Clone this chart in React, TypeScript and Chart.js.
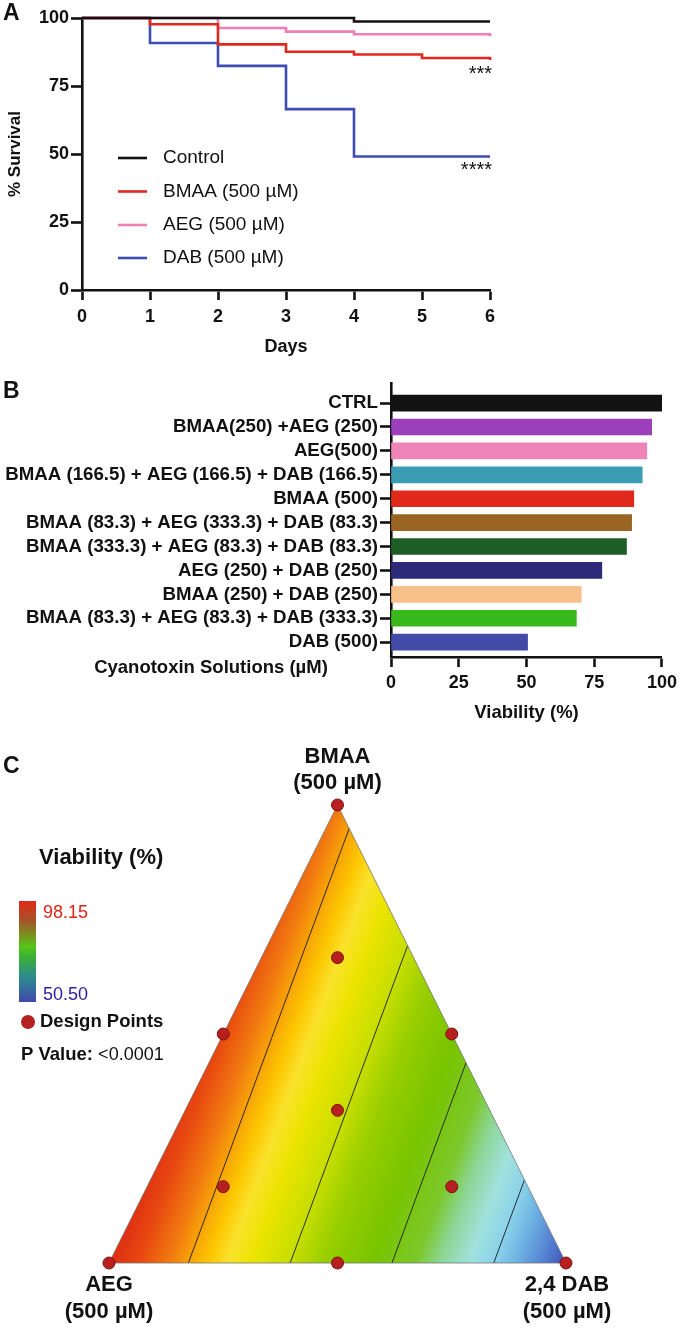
import React, { useEffect, useRef } from "react";
import { Chart, registerables } from "chart.js";

Chart.register(...registerables);

const FONT = '"Liberation Sans", Arial, Helvetica, sans-serif';

// ---------------- Panel A : survival ----------------
const days = [0, 1, 2, 3, 4, 5, 6];
const survivalControl = [100, 100, 100, 100, 98.7, 98.7, 98.7];
const survivalBMAA = [100, 97.7, 90.3, 87.6, 86.6, 85.3, 84.6];
const survivalAEG = [100, 100, 96.3, 95.0, 94.0, 94.0, 93.3];
const survivalDAB = [100, 90.8, 82.4, 66.5, 49.1, 49.1, 49.1];
const survivalNames = ["Control", "BMAA (500 µM)", "AEG (500 µM)", "DAB (500 µM)"];
const survivalMarks = ["", "***", "", "****"];
const survivalColors = ["#111111", "#e2281c", "#f07fb8", "#3e4db4"];

// ---------------- Panel B : viability bars ----------------
const cyanoLabels = [
  "CTRL",
  "BMAA(250) +AEG (250)",
  "AEG(500)",
  "BMAA (166.5) + AEG (166.5) + DAB (166.5)",
  "BMAA (500)",
  "BMAA (83.3) + AEG (333.3) + DAB (83.3)",
  "BMAA (333.3) + AEG (83.3) + DAB (83.3)",
  "AEG (250) + DAB (250)",
  "BMAA (250) + DAB (250)",
  "BMAA (83.3) + AEG (83.3) + DAB (333.3)",
  "DAB (500)",
];
const viabilityValues = [100, 96.2, 94.4, 92.7, 89.6, 88.8, 86.9, 77.8, 70.2, 68.4, 50.4];
const barColors = [
  "#121212", "#9b3fbb", "#ef84b9", "#3a9cb3", "#e0291b", "#9a6423",
  "#1f5d26", "#2d2a7a", "#f8c18c", "#39b81c", "#434ba9",
];

// ---------------- Panel C : mixture design ----------------
const vertexNames = ["BMAA", "AEG", "2,4 DAB"];
const vertexConc = "(500 µM)";
const designBMAA = [500, 0, 0, 250, 250, 0, 166.5, 333.3, 83.3, 83.3];
const designAEG = [0, 500, 0, 250, 0, 250, 166.5, 83.3, 333.3, 83.3];
const designDAB = [0, 0, 500, 0, 250, 250, 166.5, 83.3, 83.3, 333.3];
const surfaceCoef = [92.0, 97.8, 52.9]; // fitted viability of pure BMAA, AEG, DAB
const contourLevels = [60, 70, 80, 90];
const colorbarRange = [50.5, 98.15];
const pValueText = "<0.0001";

const SURFACE_STOPS: [number, number[]][] = [
  [0.0, [56, 62, 176]],
  [0.05, [64, 80, 182]],
  [0.1, [84, 130, 210]],
  [0.16, [112, 184, 228]],
  [0.2, [140, 210, 234]],
  [0.25, [160, 226, 222]],
  [0.31, [140, 214, 150]],
  [0.36, [124, 200, 44]],
  [0.45, [120, 196, 0]],
  [0.55, [152, 206, 0]],
  [0.62, [198, 222, 0]],
  [0.7, [236, 228, 0]],
  [0.75, [250, 226, 44]],
  [0.79, [252, 198, 0]],
  [0.83, [248, 162, 8]],
  [0.87, [241, 122, 16]],
  [0.93, [232, 74, 16]],
  [1.0, [220, 40, 20]],
];

function surfaceValue(b: number, a: number, d: number) {
  return surfaceCoef[0] * b + surfaceCoef[1] * a + surfaceCoef[2] * d;
}

function surfaceColor(v: number) {
  let t = (v - colorbarRange[0]) / (colorbarRange[1] - colorbarRange[0]);
  t = Math.max(0, Math.min(1, t));
  for (let i = 1; i < SURFACE_STOPS.length; i++) {
    const [t1, c1] = SURFACE_STOPS[i];
    const [t0, c0] = SURFACE_STOPS[i - 1];
    if (t <= t1) {
      const f = (t - t0) / (t1 - t0);
      return [0, 1, 2].map((k) => Math.round(c0[k] + (c1[k] - c0[k]) * f));
    }
  }
  return SURFACE_STOPS[SURFACE_STOPS.length - 1][1];
}

function ternaryXY(b: number, a: number, d: number) {
  const s = b + a + d;
  return { x: d / s + (b / s) / 2, y: b / s };
}

const baseOpts = {
  responsive: false,
  maintainAspectRatio: false,
  animation: false as const,
  devicePixelRatio: 1,
  events: [] as any[],
};

function font(size: number, bold = true) {
  return `${bold ? "bold " : ""}${size}px ${FONT}`;
}

function text(ctx: CanvasRenderingContext2D, s: string, x: number, y: number, f: string, align: CanvasTextAlign = "left", color = "#111") {
  ctx.save();
  ctx.font = f;
  ctx.fillStyle = color;
  ctx.textAlign = align;
  ctx.textBaseline = "middle";
  ctx.fillText(s, x, y);
  ctx.restore();
}

// ---------- Chart A ----------
function makeSurvival(canvas: HTMLCanvasElement) {
  const series = [survivalControl, survivalBMAA, survivalAEG, survivalDAB];
  const plugin = {
    id: "survivalDecor",
    afterDraw(chart: any) {
      const { ctx, scales } = chart;
      const xs = scales.x, ys = scales.y;
      text(ctx, "A", 3, 14, font(23));
      ctx.save();
      ctx.translate(15, 154);
      ctx.rotate(-Math.PI / 2);
      text(ctx, "% Survival", 0, 0, font(17), "center");
      ctx.restore();
      text(ctx, "Days", (xs.left + xs.right) / 2, 347, font(18), "center");
      const legendY = [158, 191.5, 225, 258];
      survivalNames.forEach((name, i) => {
        ctx.save();
        ctx.strokeStyle = survivalColors[i];
        ctx.lineWidth = 2.6;
        ctx.beginPath();
        ctx.moveTo(118, legendY[i]);
        ctx.lineTo(147, legendY[i]);
        ctx.stroke();
        ctx.restore();
        text(ctx, name, 163, legendY[i], font(19, false));
      });
      survivalMarks.forEach((m, i) => {
        if (!m) return;
        const last = series[i][series[i].length - 1];
        const py = ys.getPixelForValue(last);
        ctx.save();
        ctx.font = font(20, false);
        ctx.fillStyle = "#111";
        ctx.textAlign = "right";
        ctx.textBaseline = "alphabetic";
        ctx.fillText(m, xs.getPixelForValue(days[days.length - 1]) + 2, py + 20);
        ctx.restore();
      });
    },
  };
  return new Chart(canvas, {
    type: "line",
    data: {
      datasets: series.map((s, i) => ({
        label: survivalNames[i],
        data: days.map((d, k) => ({ x: d, y: s[k] })),
        borderColor: survivalColors[i],
        backgroundColor: survivalColors[i],
        borderWidth: 2.6,
        pointRadius: 0,
        stepped: "before" as const,
        clip: false as any,
        fill: false,
      })),
    },
    options: {
      ...baseOpts,
      layout: { padding: { left: 0, top: 18, right: 192, bottom: 0 } },
      plugins: { legend: { display: false }, tooltip: { enabled: false } },
      scales: {
        x: {
          type: "linear",
          min: 0,
          max: 6,
          afterFit: (s: any) => { s.height = 70; },
          ticks: { stepSize: 1, font: { family: FONT, size: 18, weight: "bold" }, color: "#111", padding: 6 },
          grid: { drawOnChartArea: false, drawTicks: true, tickLength: 10, tickWidth: 2.6, tickColor: "#111", color: "#111" },
          border: { display: true, color: "#111", width: 2.6 },
        },
        y: {
          type: "linear",
          min: 0,
          max: 100,
          afterFit: (s: any) => { s.width = 82; },
          ticks: { stepSize: 25, font: { family: FONT, size: 18, weight: "bold" }, color: "#111", padding: 2 },
          grid: { drawOnChartArea: false, drawTicks: true, tickLength: 11, tickWidth: 2.6, tickColor: "#111", color: "#111" },
          border: { display: true, color: "#111", width: 2.6 },
        },
      },
    } as any,
    plugins: [plugin],
  });
}

// ---------- Chart B ----------
function makeBars(canvas: HTMLCanvasElement) {
  const plugin = {
    id: "barDecor",
    afterDraw(chart: any) {
      const { ctx, scales } = chart;
      const xs = scales.x;
      text(ctx, "B", 3, 32, font(23));
      text(ctx, "Cyanotoxin Solutions (µM)", 211, 308, font(18.5), "center");
      text(ctx, "Viability (%)", (xs.left + xs.right) / 2, 353, font(18.5), "center");
    },
  };
  return new Chart(canvas, {
    type: "bar",
    data: {
      datasets: [
        {
          data: viabilityValues.map((v, i) => ({ x: v, y: i })),
          backgroundColor: barColors,
          borderWidth: 0,
          barThickness: 16,
        },
      ],
    },
    options: {
      ...baseOpts,
      indexAxis: "y",
      layout: { padding: { left: 0, top: 23, right: 18, bottom: 0 } },
      plugins: { legend: { display: false }, tooltip: { enabled: false } },
      scales: {
        x: {
          type: "linear",
          min: 0,
          max: 100,
          afterFit: (s: any) => { s.height = 83; },
          ticks: { stepSize: 25, font: { family: FONT, size: 18, weight: "bold" }, color: "#111", padding: 5 },
          grid: { drawOnChartArea: false, drawTicks: true, tickLength: 10, tickWidth: 2.6, tickColor: "#111", color: "#111" },
          border: { display: true, color: "#111", width: 2.6 },
        },
        y: {
          type: "linear",
          reverse: true,
          offset: false,
          min: -0.84,
          max: 10.62,
          afterFit: (s: any) => { s.width = 391; },
          afterBuildTicks: (s: any) => { s.ticks = cyanoLabels.map((_, i) => ({ value: i })); },
          ticks: {
            autoSkip: false,
            callback: (v: any) => cyanoLabels[v] ?? "",
            font: { family: FONT, size: 18.7, weight: "bold" },
            color: "#111",
            padding: 2,
          },
          grid: { offset: false, drawOnChartArea: false, drawTicks: true, tickLength: 11, tickWidth: 2.6, tickColor: "#111", color: "#111" },
          border: { display: true, color: "#111", width: 2.6 },
        },
      },
    } as any,
    plugins: [plugin],
  });
}

// ---------- Chart C ----------
function makeTernary(canvas: HTMLCanvasElement) {
  const vertices = [
    [1, 0, 0],
    [0, 1, 0],
    [0, 0, 1],
  ];
  const plugin = {
    id: "ternarySurface",
    beforeDatasetsDraw(chart: any) {
      const { ctx, chartArea: ca, scales } = chart;
      const xs = scales.x, ys = scales.y;
      const px = (p: number[]) => {
        const t = ternaryXY(p[0], p[1], p[2]);
        return [xs.getPixelForValue(t.x), ys.getPixelForValue(t.y)];
      };
      const [pB, pA, pD] = vertices.map(px);
      const left = Math.floor(ca.left) - 1, top = Math.floor(ca.top) - 1;
      const w = Math.ceil(ca.right) - left + 2, h = Math.ceil(ca.bottom) - top + 2;
      const off = document.createElement("canvas");
      off.width = w;
      off.height = h;
      const octx = off.getContext("2d")!;
      const img = octx.createImageData(w, h);
      for (let j = 0; j < h; j++) {
        const Y = ys.getValueForPixel(top + j + 0.5);
        for (let i = 0; i < w; i++) {
          const X = xs.getValueForPixel(left + i + 0.5);
          const b = Y, d = X - Y / 2, a = 1 - b - d;
          const c = surfaceColor(surfaceValue(b, a, d));
          const k = (j * w + i) * 4;
          img.data[k] = c[0];
          img.data[k + 1] = c[1];
          img.data[k + 2] = c[2];
          img.data[k + 3] = 255;
        }
      }
      octx.putImageData(img, 0, 0);
      ctx.save();
      ctx.beginPath();
      ctx.moveTo(pA[0], pA[1]);
      ctx.lineTo(pD[0], pD[1]);
      ctx.lineTo(pB[0], pB[1]);
      ctx.closePath();
      ctx.clip();
      ctx.drawImage(off, left, top);
      // contour lines
      ctx.strokeStyle = "#1a1a1a";
      ctx.lineWidth = 0.9;
      const edges = [[1, 2], [1, 0], [0, 2]];
      contourLevels.forEach((L) => {
        const pts: number[][] = [];
        edges.forEach(([p, q]) => {
          const P = vertices[p], Q = vertices[q];
          const vP = surfaceValue(P[0], P[1], P[2]);
          const vQ = surfaceValue(Q[0], Q[1], Q[2]);
          if (vP === vQ || (L - vP) * (L - vQ) > 0) return;
          const t = (L - vP) / (vQ - vP);
          pts.push(px([0, 1, 2].map((k) => P[k] + (Q[k] - P[k]) * t)));
        });
        if (pts.length >= 2) {
          ctx.beginPath();
          ctx.moveTo(pts[0][0], pts[0][1]);
          ctx.lineTo(pts[1][0], pts[1][1]);
          ctx.stroke();
        }
      });
      ctx.restore();
      ctx.save();
      ctx.strokeStyle = "rgba(110,110,110,0.75)";
      ctx.lineWidth = 1;
      ctx.beginPath();
      ctx.moveTo(pA[0], pA[1]);
      ctx.lineTo(pD[0], pD[1]);
      ctx.lineTo(pB[0], pB[1]);
      ctx.closePath();
      ctx.stroke();
      ctx.restore();
    },
    afterDraw(chart: any) {
      const { ctx, scales } = chart;
      const xs = scales.x, ys = scales.y;
      const px = (p: number[]) => {
        const t = ternaryXY(p[0], p[1], p[2]);
        return [xs.getPixelForValue(t.x), ys.getPixelForValue(t.y)];
      };
      const [pB, pA, pD] = vertices.map(px);
      text(ctx, "C", 3, 27, font(23));
      text(ctx, vertexNames[0], pB[0], pB[1] - 48, font(22), "center");
      text(ctx, vertexConc, pB[0], pB[1] - 22, font(22), "center");
      text(ctx, vertexNames[1], pA[0], pA[1] + 22, font(22), "center");
      text(ctx, vertexConc, pA[0], pA[1] + 49, font(22), "center");
      text(ctx, vertexNames[2], pD[0] + 1, pD[1] + 22, font(22), "center");
      text(ctx, vertexConc, pD[0] + 1, pD[1] + 49, font(22), "center");
      // legend
      text(ctx, "Viability (%)", 39, 118, font(22));
      const g = ctx.createLinearGradient(0, 161, 0, 262);
      g.addColorStop(0, "#e02a1a");
      g.addColorStop(0.2, "#a4542a");
      g.addColorStop(0.45, "#56c418");
      g.addColorStop(0.55, "#3cb034");
      g.addColorStop(0.75, "#2e8c8c");
      g.addColorStop(1, "#4048ac");
      ctx.fillStyle = g;
      ctx.fillRect(19, 161, 17, 101);
      text(ctx, colorbarRange[1].toFixed(2), 43, 173, font(18, false), "left", "#e02414");
      text(ctx, colorbarRange[0].toFixed(2), 43, 255, font(18, false), "left", "#2c1ea0");
      ctx.save();
      ctx.fillStyle = "#b52020";
      ctx.beginPath();
      ctx.arc(28, 282, 7, 0, Math.PI * 2);
      ctx.fill();
      ctx.restore();
      text(ctx, "Design Points", 40, 282, font(18.5));
      ctx.save();
      ctx.font = font(18.5);
      const wP = ctx.measureText("P Value: ").width;
      ctx.restore();
      text(ctx, "P Value:", 21, 315, font(18.5));
      text(ctx, pValueText, 21 + wP, 315, font(18, false));
    },
  };
  return new Chart(canvas, {
    type: "scatter",
    data: {
      datasets: [
        {
          data: designBMAA.map((bm, i) => ternaryXY(bm, designAEG[i], designDAB[i])),
          pointRadius: 6,
          pointBackgroundColor: "#b82020",
          pointBorderColor: "#7a1410",
          pointBorderWidth: 1,
          clip: false as any,
        },
      ],
    },
    options: {
      ...baseOpts,
      layout: { padding: { left: 109, right: 116, top: 65, bottom: 66 } },
      plugins: { legend: { display: false }, tooltip: { enabled: false } },
      scales: {
        x: { type: "linear", min: 0, max: 1, display: false },
        y: { type: "linear", min: 0, max: 1, display: false },
      },
    } as any,
    plugins: [plugin],
  });
}

export default function App() {
  const refA = useRef<HTMLCanvasElement>(null);
  const refB = useRef<HTMLCanvasElement>(null);
  const refC = useRef<HTMLCanvasElement>(null);

  useEffect(() => {
    const charts = [
      makeSurvival(refA.current!),
      makeBars(refB.current!),
      makeTernary(refC.current!),
    ];
    return () => charts.forEach((c) => c.destroy());
  }, []);

  const cs = (top: number, h: number): React.CSSProperties => ({
    position: "absolute",
    left: 0,
    top,
    width: 682,
    height: h,
    display: "block",
  });

  return (
    <div style={{ position: "absolute", left: 0, top: 0, width: 682, height: 1329, background: "#fff", overflow: "hidden" }}>
      <canvas ref={refA} width={682} height={360} style={cs(0, 360)} />
      <canvas ref={refB} width={682} height={380} style={cs(360, 380)} />
      <canvas ref={refC} width={682} height={589} style={cs(740, 589)} />
    </div>
  );
}
